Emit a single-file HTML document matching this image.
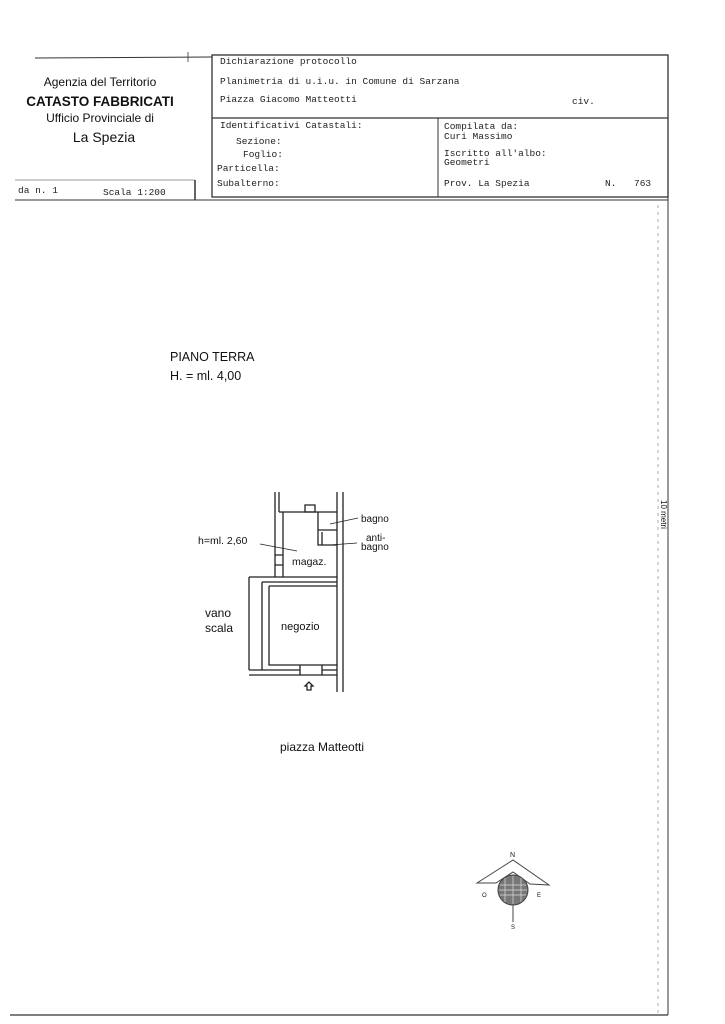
<!DOCTYPE html>
<html><head><style>
body{margin:0;background:#fff;}
svg{display:block}
.m{font-family:"Liberation Mono",monospace;font-size:9.5px;fill:#222}
.s{font-family:"Liberation Sans",sans-serif;fill:#111}
</style></head><body>
<svg width="725" height="1024" viewBox="0 0 725 1024" xmlns="http://www.w3.org/2000/svg">
<g stroke="#333" fill="none">
<line x1="35" y1="58" x2="212" y2="57" stroke-width="1"/>
<line x1="188" y1="52" x2="188" y2="62" stroke-width="0.8"/>
<rect x="212" y="55" width="456" height="142" stroke-width="1.3"/>
<line x1="212" y1="118" x2="668" y2="118" stroke-width="1.2"/>
<line x1="438" y1="118" x2="438" y2="197" stroke-width="1"/>
<line x1="15" y1="200" x2="668" y2="200" stroke-width="1"/>
<line x1="195" y1="180" x2="195" y2="200" stroke-width="1.5"/>
<line x1="15" y1="180" x2="195" y2="180" stroke-width="0.5"/>
<line x1="668" y1="197" x2="668" y2="1015" stroke-width="1"/>
<line x1="658" y1="205" x2="658" y2="1015" stroke-width="0.4" stroke-dasharray="3,4"/>
<line x1="10" y1="1015" x2="668" y2="1015" stroke-width="1.3"/>
</g>
<text class="s" x="100" y="86" font-size="12" text-anchor="middle">Agenzia del Territorio</text>
<text class="s" x="100" y="106" font-size="13.5" font-weight="bold" text-anchor="middle">CATASTO FABBRICATI</text>
<text class="s" x="100" y="122" font-size="12" text-anchor="middle">Ufficio Provinciale di</text>
<text class="s" x="104" y="142" font-size="14" text-anchor="middle">La Spezia</text>
<text class="m" x="220" y="64">Dichiarazione protocollo</text>
<text class="m" x="220" y="84">Planimetria di u.i.u. in Comune di Sarzana</text>
<text class="m" x="220" y="102">Piazza Giacomo Matteotti</text>
<text class="m" x="572" y="104">civ.</text>
<text class="m" x="220" y="128">Identificativi Catastali:</text>
<text class="m" x="236" y="144">Sezione:</text>
<text class="m" x="243" y="157">Foglio:</text>
<text class="m" x="217" y="171">Particella:</text>
<text class="m" x="217" y="186">Subalterno:</text>
<text class="m" x="444" y="129">Compilata da:</text>
<text class="m" x="444" y="139">Curi Massimo</text>
<text class="m" x="444" y="156">Iscritto all'albo:</text>
<text class="m" x="444" y="165">Geometri</text>
<text class="m" x="444" y="186">Prov. La Spezia</text>
<text class="m" x="605" y="186">N.</text>
<text class="m" x="634" y="186">763</text>
<text class="m" x="18" y="193">da n. 1</text>
<text class="m" x="103" y="195">Scala 1:200</text>
<text class="s" x="170" y="361" font-size="12.5">PIANO TERRA</text>
<text class="s" x="170" y="380" font-size="12.5">H. = ml. 4,00</text>
<text class="s" x="661" y="500" font-size="8" transform="rotate(90 661 500)">10 metri</text>
<g stroke="#222" fill="none" stroke-width="1.3">
<path d="M275 492 V577 M279 492 V512 M337 492 V692 M343 492 V692"/>
<path d="M279 512 H337 M283 512 V577 H337"/>
<path d="M305 505 h10 v7 h-10z"/>
<path d="M275 555 h8 M275 565 h8 M275 577 h8"/>
<path d="M318 512 V545 H337 M318 530 H337 M322 532 v13"/>
<path d="M249 577 H275 M249 582 V670 M249 577 v5 M262 582 H337 M262 582 V670 M269 586 H337 M269 586 V665 H337"/>
<path d="M249 670 H300 M322 670 H337 M249 675 H337 M300 665 v10 M322 665 v10"/>
<path d="M309 682 l-4 4 h2 v4 h4 v-4 h2 z"/>
</g>
<g stroke="#222" stroke-width="0.8">
<line x1="260" y1="544" x2="297" y2="551"/>
<line x1="330" y1="524" x2="358" y2="518"/>
<line x1="330" y1="545" x2="357" y2="543"/>
</g>
<text class="s" x="198" y="544" font-size="10.5">h=ml. 2,60</text>
<text class="s" x="292" y="565" font-size="10.5">magaz.</text>
<text class="s" x="361" y="522" font-size="10">bagno</text>
<text class="s" x="366" y="541" font-size="10">anti-</text>
<text class="s" x="361" y="550" font-size="10">bagno</text>
<text class="s" x="205" y="617" font-size="12">vano</text>
<text class="s" x="205" y="632" font-size="12">scala</text>
<text class="s" x="281" y="630" font-size="11">negozio</text>
<text class="s" x="280" y="751" font-size="12">piazza Matteotti</text>
<g stroke="#444" fill="none" stroke-width="1">
<path d="M477 883 L513 860 L549 885 L530 884 L513 872 L496 883 Z"/>
<circle cx="513" cy="890" r="15" fill="#777"/>
<line x1="513" y1="905" x2="513" y2="922"/>
</g>
<g stroke="#ddd" stroke-width="0.7"><path d="M500 885 h26 M499 890 h28 M500 895 h26 M505 878 v24 M513 876 v28 M521 878 v24"/></g>
<text class="s" x="510" y="857" font-size="7">N</text>
<text class="s" x="482" y="897" font-size="6">O</text>
<text class="s" x="537" y="897" font-size="6">E</text>
<text class="s" x="511" y="929" font-size="6">S</text>
</svg>
</body></html>
